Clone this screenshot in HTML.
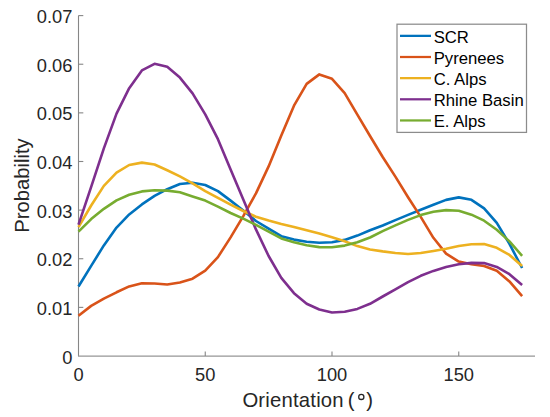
<!DOCTYPE html>
<html><head><meta charset="utf-8"><style>
html,body{margin:0;padding:0;background:#fff;}
svg{display:block;}
text{font-family:"Liberation Sans",sans-serif;}
</style></head><body>
<svg width="550" height="417" viewBox="0 0 550 417">
<rect x="0" y="0" width="550" height="417" fill="#fff"/>

<path d="M78.5,15.6 V356.1" stroke="#868686" stroke-width="1.1" fill="none"/>
<path d="M78.0,356.1 H535.0" stroke="#969696" stroke-width="1.35" fill="none"/>
<g stroke="#868686" stroke-width="1.1" fill="none">
<path d="M78.5,307.37 h4.8"/>
<path d="M78.5,258.74 h4.8"/>
<path d="M78.5,210.11 h4.8"/>
<path d="M78.5,161.49 h4.8"/>
<path d="M78.5,112.86 h4.8"/>
<path d="M78.5,64.23 h4.8"/>
<path d="M78.5,15.60 h4.8"/>
<path d="M205.25,356.1 v-4.6"/>
<path d="M332.00,356.1 v-4.6"/>
<path d="M458.75,356.1 v-4.6"/>
</g>
<g fill="#262626" font-size="18.3">
<text x="72.4" y="363.55" text-anchor="end">0</text>
<text x="72.4" y="314.90" text-anchor="end">0.01</text>
<text x="72.4" y="266.25" text-anchor="end">0.02</text>
<text x="72.4" y="217.60" text-anchor="end">0.03</text>
<text x="72.4" y="168.95" text-anchor="end">0.04</text>
<text x="72.4" y="120.30" text-anchor="end">0.05</text>
<text x="72.4" y="71.65" text-anchor="end">0.06</text>
<text x="72.4" y="23.00" text-anchor="end">0.07</text>
<text x="78.50" y="381.2" text-anchor="middle">0</text>
<text x="205.25" y="381.2" text-anchor="middle">50</text>
<text x="332.00" y="381.2" text-anchor="middle">100</text>
<text x="458.75" y="381.2" text-anchor="middle">150</text>
</g>
<g font-size="20.3" fill="#262626"><text x="242.4" y="407.3" letter-spacing="0.2">Orientation</text><text x="347.8" y="407.3">(</text></g><circle cx="361.3" cy="396.9" r="2.6" fill="none" stroke="#262626" stroke-width="1.3"/><g font-size="20.3" fill="#262626"><text x="366.2" y="407.3">)</text></g>
<text transform="translate(28.7,185.5) rotate(-90)" text-anchor="middle" font-size="20.2" fill="#262626">Probability</text>
<polyline points="78.50,286.50 91.17,265.90 103.85,245.40 116.53,227.60 129.20,214.40 141.88,204.40 154.55,195.90 167.23,189.20 179.90,184.00 192.57,182.80 205.25,185.00 217.93,191.10 230.60,200.60 243.28,210.50 255.95,221.00 268.62,228.70 281.30,236.20 293.98,239.60 306.65,241.80 319.33,242.80 332.00,242.30 344.68,239.90 357.35,235.60 370.03,230.30 382.70,225.50 395.38,220.10 408.05,214.90 420.73,209.80 433.40,204.70 446.08,199.90 458.75,197.40 471.43,199.80 484.10,208.40 496.78,222.90 509.45,243.90 522.12,268.00" fill="none" stroke="#0072BD" stroke-width="2.6" stroke-linejoin="round" stroke-linecap="butt"/>
<polyline points="78.50,315.70 91.17,305.90 103.85,298.60 116.53,292.30 129.20,286.40 141.88,283.30 154.55,283.50 167.23,284.50 179.90,282.50 192.57,278.70 205.25,270.60 217.93,257.10 230.60,237.40 243.28,216.20 255.95,193.40 268.62,166.40 281.30,135.40 293.98,105.70 306.65,83.90 319.33,74.40 332.00,78.80 344.68,93.20 357.35,114.70 370.03,136.00 382.70,157.00 395.38,176.60 408.05,197.20 420.73,216.90 433.40,237.80 446.08,253.60 458.75,261.60 471.43,264.20 484.10,266.00 496.78,270.80 509.45,281.40 522.12,296.10" fill="none" stroke="#D95319" stroke-width="2.6" stroke-linejoin="round" stroke-linecap="butt"/>
<polyline points="78.50,227.10 91.17,205.50 103.85,185.90 116.53,172.70 129.20,165.00 141.88,162.60 154.55,164.50 167.23,170.30 179.90,176.40 192.57,183.40 205.25,191.10 217.93,197.90 230.60,204.60 243.28,211.00 255.95,216.70 268.62,220.60 281.30,224.00 293.98,226.90 306.65,230.30 319.33,233.60 332.00,237.30 344.68,241.30 357.35,246.10 370.03,249.50 382.70,251.40 395.38,253.00 408.05,254.00 420.73,253.00 433.40,251.00 446.08,248.80 458.75,246.00 471.43,244.20 484.10,244.10 496.78,247.80 509.45,254.90 522.12,265.90" fill="none" stroke="#EDB120" stroke-width="2.6" stroke-linejoin="round" stroke-linecap="butt"/>
<polyline points="78.50,224.70 91.17,186.90 103.85,148.40 116.53,113.60 129.20,88.20 141.88,70.40 154.55,63.80 167.23,66.80 179.90,77.60 192.57,93.40 205.25,114.40 217.93,139.20 230.60,169.40 243.28,199.40 255.95,229.40 268.62,256.00 281.30,277.80 293.98,293.20 306.65,303.70 319.33,309.50 332.00,312.50 344.68,311.80 357.35,308.90 370.03,303.80 382.70,296.50 395.38,289.30 408.05,282.10 420.73,275.80 433.40,270.90 446.08,267.10 458.75,264.20 471.43,262.90 484.10,263.10 496.78,266.90 509.45,274.20 522.12,285.10" fill="none" stroke="#7E2F8E" stroke-width="2.6" stroke-linejoin="round" stroke-linecap="butt"/>
<polyline points="78.50,231.70 91.17,219.10 103.85,208.80 116.53,200.40 129.20,194.70 141.88,191.40 154.55,190.30 167.23,190.60 179.90,192.20 192.57,196.40 205.25,200.60 217.93,206.60 230.60,213.00 243.28,218.60 255.95,224.90 268.62,231.60 281.30,238.40 293.98,242.30 306.65,245.20 319.33,247.10 332.00,247.30 344.68,245.60 357.35,242.30 370.03,237.50 382.70,231.10 395.38,225.40 408.05,219.90 420.73,215.10 433.40,211.70 446.08,210.10 458.75,210.80 471.43,214.70 484.10,220.70 496.78,229.80 509.45,241.40 522.12,255.80" fill="none" stroke="#77AC30" stroke-width="2.6" stroke-linejoin="round" stroke-linecap="butt"/>
<rect x="397" y="24.2" width="129.5" height="108.2" fill="#fff" stroke="#8c8c8c" stroke-width="1.25"/>
<line x1="400" y1="35.85" x2="431" y2="35.85" stroke="#0072BD" stroke-width="2.25"/>
<text x="433.7" y="42.85" font-size="16.7" fill="#000">SCR</text>
<line x1="400" y1="57.00" x2="431" y2="57.00" stroke="#D95319" stroke-width="2.25"/>
<text x="433.7" y="64.00" font-size="16.7" fill="#000">Pyrenees</text>
<line x1="400" y1="78.15" x2="431" y2="78.15" stroke="#EDB120" stroke-width="2.25"/>
<text x="433.7" y="85.15" font-size="16.7" fill="#000">C. Alps</text>
<line x1="400" y1="99.30" x2="431" y2="99.30" stroke="#7E2F8E" stroke-width="2.25"/>
<text x="433.7" y="106.30" font-size="16.7" fill="#000">Rhine Basin</text>
<line x1="400" y1="120.45" x2="431" y2="120.45" stroke="#77AC30" stroke-width="2.25"/>
<text x="433.7" y="127.45" font-size="16.7" fill="#000">E. Alps</text>
</svg>
</body></html>
